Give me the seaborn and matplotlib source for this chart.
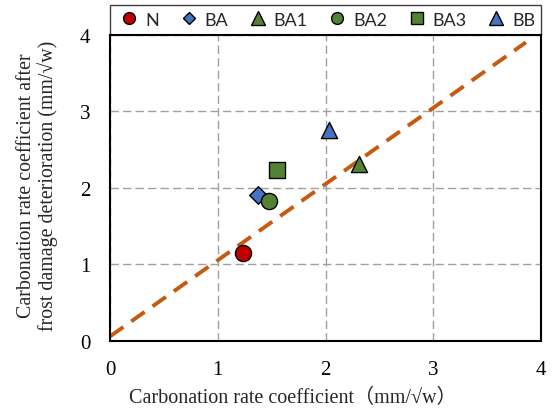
import matplotlib
matplotlib.use("Agg")
import matplotlib.pyplot as plt
import seaborn as sns
import pandas as pd
from matplotlib.lines import Line2D
from matplotlib.patches import Rectangle

# Data
labels = ["N", "BA", "BA1", "BA2", "BA3", "BB"]
x_vals = [1.23, 1.37, 2.31, 1.48, 1.55, 2.03]
y_vals = [1.15, 1.91, 2.31, 1.83, 2.23, 2.75]
line_x = [0.0, 3.86]
line_y = [0.06, 3.90]
ticks = [0, 1, 2, 3, 4]

colors = {"N": "#C00000", "BA": "#4472C4", "BA1": "#548235",
          "BA2": "#548235", "BA3": "#548235", "BB": "#4472C4"}
markers = {"N": "o", "BA": "D", "BA1": "^", "BA2": "o", "BA3": "s", "BB": "^"}
msizes = {"N": 135, "BA": 80, "BA1": 135, "BA2": 135, "BA3": 145, "BB": 135}

sns.set_theme(style="white")
plt.rcParams['font.family'] = ['Liberation Serif', 'Noto Sans CJK JP']

fig = plt.figure(figsize=(5.53, 4.14), dpi=100)
ax = fig.add_axes([110/553, 1-342/414, 431/553, (342-35.7)/414])

df = pd.DataFrame({"label": labels, "x": x_vals, "y": y_vals})

sns.lineplot(x=line_x, y=line_y, ax=ax, color="#C55A11", linewidth=2.8,
             zorder=2)
ax.lines[-1].set_dashes((4.2, 2.5))

for lab in labels:
    sub = df[df["label"] == lab]
    sns.scatterplot(data=sub, x="x", y="y", ax=ax, color=colors[lab],
                    marker=markers[lab], s=msizes[lab], edgecolor="black",
                    linewidth=1.0, zorder=3, legend=False)

ax.set_xlim(0, 4)
ax.set_ylim(0, 4)
ax.set_xticks(ticks)
ax.set_yticks(ticks)
ax.tick_params(axis="both", length=0, pad=14, labelsize=15, colors="black")
ax.grid(True, color="#A0A0A0", linestyle=(0, (6, 3)), linewidth=1.0)
ax.set_axisbelow(True)
for sp in ax.spines.values():
    sp.set_color("black")
    sp.set_linewidth(1.5)

ax.set_xlabel("Carbonation rate coefficient（mm/√w）", fontsize=14.5)
ax.xaxis.set_label_coords(0.425, -0.152)
ax.set_ylabel("Carbonation rate coefficient after\nfrost damage deterioration (mm/√w)",
              fontsize=14.3, linespacing=1.1)
ax.yaxis.set_label_coords(-0.12, 0.51)

# legend frame spanning the axes width above the plot (drawn beneath the axes)
frame = Rectangle((0, 1.0), 1.0, 30/306.3, transform=ax.transAxes,
                  facecolor="white", edgecolor="#404040", linewidth=1.0,
                  clip_on=False, zorder=-1)
fig.add_artist(frame)

handles = []
leg_sizes = {"N": 8.5, "BA": 6.5, "BA1": 9.5, "BA2": 8.5, "BA3": 8.5, "BB": 9.5}
for lab in labels:
    handles.append(Line2D([], [], linestyle="none", marker=markers[lab],
                          markersize=leg_sizes[lab], markerfacecolor=colors[lab],
                          markeredgecolor="black", markeredgewidth=1.0))
leg = ax.legend(handles, labels, loc="center", bbox_to_anchor=(0.505, 1.049),
                ncol=6, frameon=False, borderaxespad=0, handletextpad=0.37,
                columnspacing=1.15, handlelength=1.0,
                prop={"family": "Lato", "size": 13}, borderpad=0.2)
leg.set_zorder(5)

fig.savefig("out.png", dpi=100)
